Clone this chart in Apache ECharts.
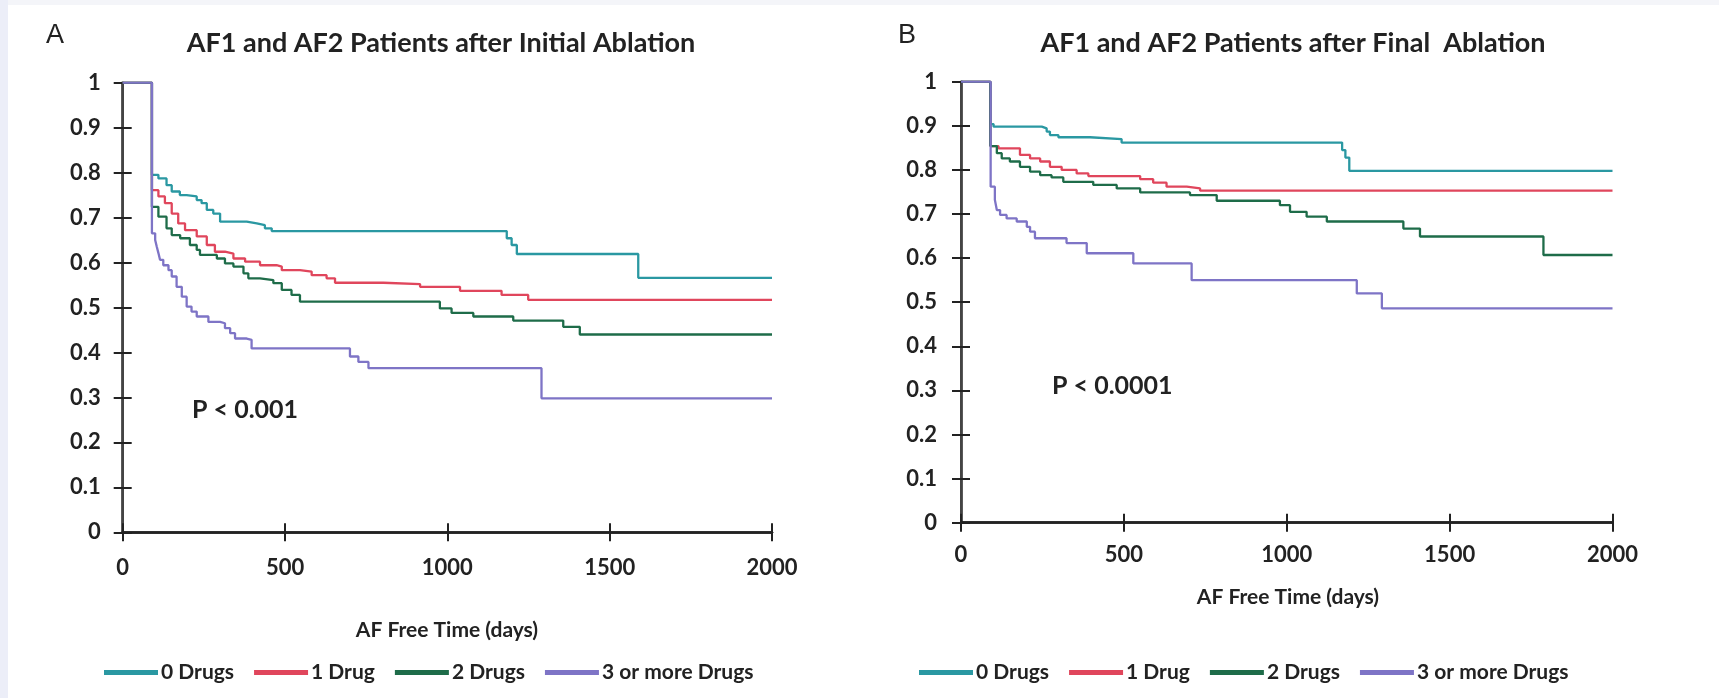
<!DOCTYPE html>
<html>
<head>
<meta charset="utf-8">
<script src="https://cdn.jsdelivr.net/npm/echarts@6/dist/echarts.min.js"></script>
<style>
html,body{margin:0;padding:0;background:#fff;}
#bgTop{position:absolute;left:0;top:0;width:1719px;height:5px;background:#f4f5f9;}
#bgLeft{position:absolute;left:0;top:0;width:8px;height:698px;background:#eceef8;}
#chart{position:absolute;left:0;top:0;width:1719px;height:698px;}
</style>
</head>
<body>
<div id="bgTop"></div><div id="bgLeft"></div>
<div id="chart"></div>
<script>
// ---- Data (days, AF-free probability) ----
const seriesNames = ['0 Drugs', '1 Drug', '2 Drugs', '3 or more Drugs'];
const xTicks = [0, 500, 1000, 1500, 2000];
const yTicks = [0, 0.1, 0.2, 0.3, 0.4, 0.5, 0.6, 0.7, 0.8, 0.9, 1];

// Panel A: after initial ablation
const initial0Drugs = [[0,1],[90,0.795],[110,0.787],[135,0.772],[151,0.758],[176,0.750],[197,0.747],[228,0.739],[243,0.732],[259,0.717],[279,0.709],[300,0.691],[382,0.687],[413,0.683],[438,0.676],[459,0.670],[1183,0.654],[1198,0.639],[1214,0.619],[1588,0.566],[2000,0.566]];
const initial1Drug = [[0,1],[90,0.761],[110,0.747],[130,0.732],[151,0.709],[171,0.687],[192,0.672],[228,0.658],[259,0.639],[284,0.624],[315,0.620],[341,0.609],[377,0.602],[423,0.594],[474,0.591],[490,0.583],[546,0.580],[582,0.572],[628,0.565],[654,0.555],[803,0.552],[916,0.546],[1039,0.537],[1167,0.528],[1249,0.517],[2000,0.517]];
const initial2Drugs = [[0,1],[90,0.724],[110,0.702],[135,0.676],[151,0.661],[177,0.654],[207,0.639],[228,0.628],[238,0.617],[290,0.609],[315,0.598],[341,0.591],[372,0.576],[387,0.565],[423,0.561],[464,0.554],[490,0.539],[520,0.528],[546,0.513],[977,0.498],[1013,0.488],[1080,0.480],[1203,0.471],[1357,0.457],[1408,0.440],[2000,0.440]];
const initial3Drugs = [[0,1],[90,0.665],[100,0.650],[105,0.635],[110,0.621],[115,0.606],[125,0.594],[141,0.583],[151,0.569],[166,0.546],[182,0.524],[197,0.502],[212,0.491],[228,0.480],[264,0.468],[300,0.465],[315,0.454],[331,0.443],[346,0.431],[382,0.428],[397,0.409],[700,0.391],[726,0.379],[757,0.365],[1290,0.298],[2000,0.298]];

// Panel B: after final ablation
const final0Drugs = [[0,1],[90,0.904],[100,0.898],[248,0.894],[263,0.887],[273,0.879],[299,0.874],[396,0.870],[493,0.862],[1170,0.845],[1180,0.828],[1192,0.798],[2000,0.798]];
const final1Drug = [[0,1],[90,0.854],[115,0.849],[181,0.834],[212,0.826],[243,0.819],[273,0.807],[309,0.800],[355,0.792],[391,0.786],[550,0.779],[590,0.771],[631,0.762],[693,0.758],[734,0.753],[2000,0.753]];
const final2Drugs = [[0,1],[90,0.854],[110,0.838],[125,0.826],[150,0.819],[181,0.807],[212,0.796],[243,0.788],[278,0.783],[314,0.773],[406,0.766],[478,0.758],[550,0.749],[703,0.743],[785,0.730],[979,0.720],[1010,0.705],[1061,0.694],[1123,0.683],[1358,0.667],[1409,0.649],[1788,0.607],[2000,0.607]];
const final3Drugs = [[0,1],[91,0.762],[104,0.732],[110,0.709],[120,0.698],[140,0.690],[171,0.683],[202,0.671],[212,0.660],[227,0.645],[324,0.634],[386,0.611],[529,0.588],[708,0.550],[1215,0.520],[1292,0.486],[2000,0.486]];

const panelTitles = ['AF1 and AF2 Patients after Initial Ablation', 'AF1 and AF2 Patients after Final  Ablation'];
const panelLetters = ['A', 'B'];
const pTexts = ['P < 0.001', 'P < 0.0001'];
const xAxisName = 'AF Free Time (days)';

// ---- Styles ----
const colors = ['#2a98a2', '#e0465c', '#1e6c49', '#7e74c6'];
const FONT = "Lato, 'Liberation Sans', sans-serif";
const grids = [
  {left: 122.7, top: 82.7, width: 649.3, height: 449.6},
  {left: 961, top: 81.7, width: 651.5, height: 441}
];
const xLabelMargin = [25, 21];
const yLabelMargin = [22, 24];

const chart = echarts.init(document.getElementById('chart'), null, {renderer: 'canvas'});

const xAxes = [], yAxes = [];
grids.forEach((g, i) => {
  const common = {type: 'value', min: 0, max: 2000, interval: 500, gridIndex: i, splitLine: {show: false}};
  xAxes.push(Object.assign({}, common, {
    position: 'bottom',
    axisLine: {show: true, lineStyle: {color: '#222', width: 2.5}},
    axisTick: {show: true, length: 9, lineStyle: {color: '#222', width: 2}},
    axisLabel: {show: true, margin: xLabelMargin[i], color: '#222', fontFamily: FONT, fontWeight: 'bold', fontSize: 22,
      formatter: v => xTicks.indexOf(v) >= 0 ? String(v) : ''}
  }));
  xAxes.push(Object.assign({}, common, {
    position: 'bottom',
    axisLine: {show: false},
    axisTick: {show: true, inside: true, length: 9, lineStyle: {color: '#222', width: 2}},
    axisLabel: {show: false}
  }));
  xAxes.push(Object.assign({}, common, {
    position: 'top',
    axisLine: {show: true, lineStyle: {color: '#222', width: 2.5}},
    axisTick: {show: false}, axisLabel: {show: false}
  }));
  const ycommon = {type: 'value', min: 0, max: 1, interval: 0.1, gridIndex: i, splitLine: {show: false}};
  yAxes.push(Object.assign({}, ycommon, {
    position: 'left',
    axisLine: {show: true, lineStyle: {color: '#222', width: 2.5}},
    axisTick: {show: true, length: 9, lineStyle: {color: '#222', width: 2}},
    axisLabel: {show: true, margin: yLabelMargin[i], color: '#222', fontFamily: FONT, fontWeight: 'bold', fontSize: 22,
      formatter: v => { const r = Math.round(v * 10) / 10; return yTicks.indexOf(r) >= 0 ? String(r) : ''; }}
  }));
  yAxes.push(Object.assign({}, ycommon, {
    position: 'left',
    axisLine: {show: false},
    axisTick: {show: true, inside: true, length: 9, lineStyle: {color: '#222', width: 2}},
    axisLabel: {show: false}
  }));
  yAxes.push(Object.assign({}, ycommon, {
    position: 'right',
    axisLine: {show: true, lineStyle: {color: '#444', width: 2}},
    axisTick: {show: false}, axisLabel: {show: false}
  }));
});

const panelData = [
  [initial0Drugs, initial1Drug, initial2Drugs, initial3Drugs],
  [final0Drugs, final1Drug, final2Drugs, final3Drugs]
];
const series = [];
panelData.forEach((arr, p) => {
  arr.forEach((d, k) => {
    series.push({
      type: 'line', name: seriesNames[k], data: d, step: 'end',
      xAxisIndex: p * 3, yAxisIndex: p * 3,
      showSymbol: false, symbol: 'none', animation: false,
      lineStyle: {color: colors[k], width: 2.3}, itemStyle: {color: colors[k]}
    });
  });
});

const textStyleBold = {fontFamily: FONT, fontWeight: 'bold', color: '#222'};
const legendBase = {
  icon: 'rect', itemWidth: 54, itemHeight: 5, itemGap: 20, orient: 'horizontal',
  textStyle: {fontFamily: FONT, fontWeight: 'bold', fontSize: 21, color: '#222', padding: [0, 0, 0, -2]},
  data: seriesNames, selectedMode: false
};

const option = {
  backgroundColor: 'transparent',
  animation: false,
  grid: grids.map(g => Object.assign({containLabel: false, show: false}, g)),
  xAxis: xAxes,
  yAxis: yAxes,
  series: series,
  title: [
    {text: panelTitles[0], left: 436, top: 38, textAlign: 'center', textVerticalAlign: 'middle',
      textStyle: Object.assign({fontSize: 27}, textStyleBold)},
    {text: panelTitles[1], left: 1288, top: 38, textAlign: 'center', textVerticalAlign: 'middle',
      textStyle: Object.assign({fontSize: 27}, textStyleBold)}
  ],
  legend: [
    Object.assign({}, legendBase, {left: 99, top: 657}),
    Object.assign({}, legendBase, {left: 914, top: 657})
  ],
  graphic: [
    {type: 'text', left: 46, top: 22, style: {text: panelLetters[0], font: "27px 'Liberation Sans', sans-serif", fill: '#222'}},
    {type: 'text', left: 898, top: 22, style: {text: panelLetters[1], font: "27px 'Liberation Sans', sans-serif", fill: '#222'}},
    {type: 'text', left: 192, top: 397, style: {text: pTexts[0], font: "bold 25px " + FONT, fill: '#222'}},
    {type: 'text', left: 1052, top: 373, style: {text: pTexts[1], font: "bold 25px " + FONT, fill: '#222'}},
    {type: 'text', x: 447, y: 630, style: {text: xAxisName, font: "bold 21px " + FONT, fill: '#222', textAlign: 'center', textVerticalAlign: 'middle'}},
    {type: 'text', x: 1288, y: 597, style: {text: xAxisName, font: "bold 21px " + FONT, fill: '#222', textAlign: 'center', textVerticalAlign: 'middle'}}
  ]
};
chart.setOption(option);
</script>
</body>
</html>
